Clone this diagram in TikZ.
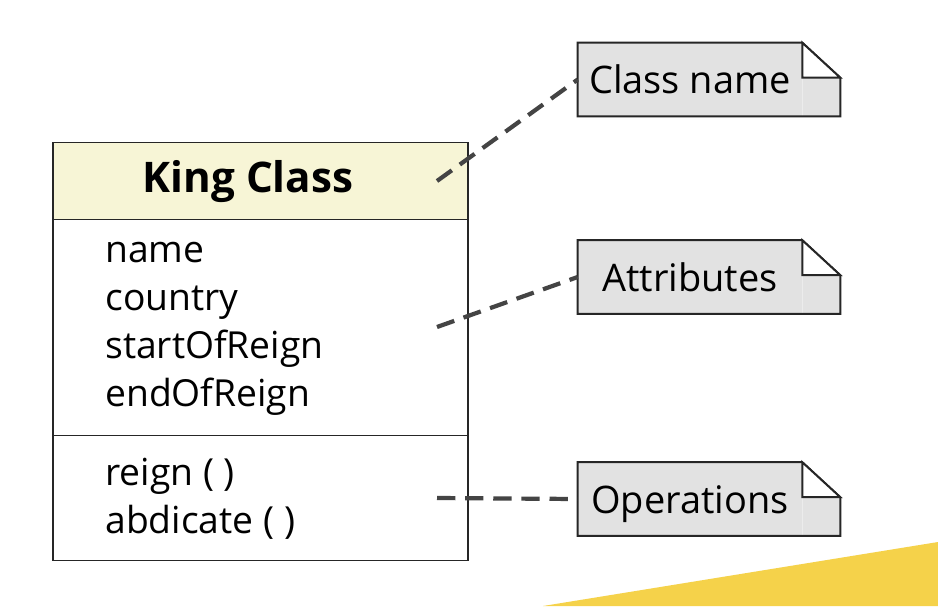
\documentclass[tikz,border=0pt]{standalone}
\usepackage{fontspec}
\setmainfont{Open Sans}
\definecolor{headyellow}{HTML}{F7F5D6}
\definecolor{notegray}{HTML}{E2E2E2}
\definecolor{linkgray}{HTML}{444444}
\definecolor{slideyellow}{HTML}{F5D24A}
\def\pxu{0.025cm}
\begin{document}
\begin{tikzpicture}[x=0.025cm,y=-0.025cm,
        compart/.style={draw=black!85,line width=1.4pt,minimum width=415*\pxu,inner sep=0pt},
        member/.style={anchor=base west,inner sep=0pt,font=\fontsize{26.5}{30}\selectfont},
        note/.style={fill=notegray,minimum width=224*\pxu,minimum height=73*\pxu,inner sep=0pt,
            text height=20pt,text depth=0pt,font=\fontsize{27}{32}\selectfont},
        noteline/.style={draw=black!85,line width=1.4pt,line join=miter},
        link/.style={draw=linkgray,line width=3pt,dash pattern=on 13pt off 7pt}]
        \useasboundingbox[fill=white] (0,0) rectangle (938,606);
        \fill[slideyellow] (543,606) -- (938,542) -- (938,606) -- cycle;
        \node[compart,fill=headyellow,minimum height=77*\pxu] (head) at (260.5,181) {};
        \node[anchor=base,inner sep=0pt,font=\fontsize{30}{34}\selectfont\bfseries] (title) at (248,192) {King Class};
        \node[compart,minimum height=216*\pxu] (attrs) at (260.5,327.5) {};
        \node[compart,minimum height=125*\pxu] (ops) at (260.5,498) {};
        \foreach \t [count=\i] in {name,country,startOfReign,endOfReign}
            \node[member] (attr\i) at (105,214+48*\i) {\t};
        \foreach \t [count=\i] in {reign ( ),abdicate ( )}
            \node[member] (op\i) at (105,437+48*\i) {\t};
        \node[note] (cname) at (690,79.5) {Class name};
        \node[note] (attrnote) at (690,277) {Attributes};
        \node[note] (opsnote) at (690,499) {Operations};
        \foreach \n in {cname,attrnote,opsnote} {
            \fill[notegray] (\n.north east) -- ++(38,35) -- ([shift={(38,0)}]\n.south east) -- (\n.south east) -- cycle;
            \draw[noteline] (\n.north west) -- (\n.north east) -- ++(38,35) -- ([shift={(38,0)}]\n.south east) -- (\n.south west) -- cycle;
            \draw[noteline,fill=white] (\n.north east) -- ++(0,35) -- ++(38,0) -- cycle;
        }
        \coordinate (headpt) at (437,181);
        \coordinate (attrpt) at (437,327);
        \coordinate (opspt) at (437,498);
        \draw[link] (headpt) -- (cname.west);
        \draw[link] (attrpt) -- (attrnote.west);
        \draw[link] (opspt) -- (opsnote.west);
    \end{tikzpicture}
\end{document}
